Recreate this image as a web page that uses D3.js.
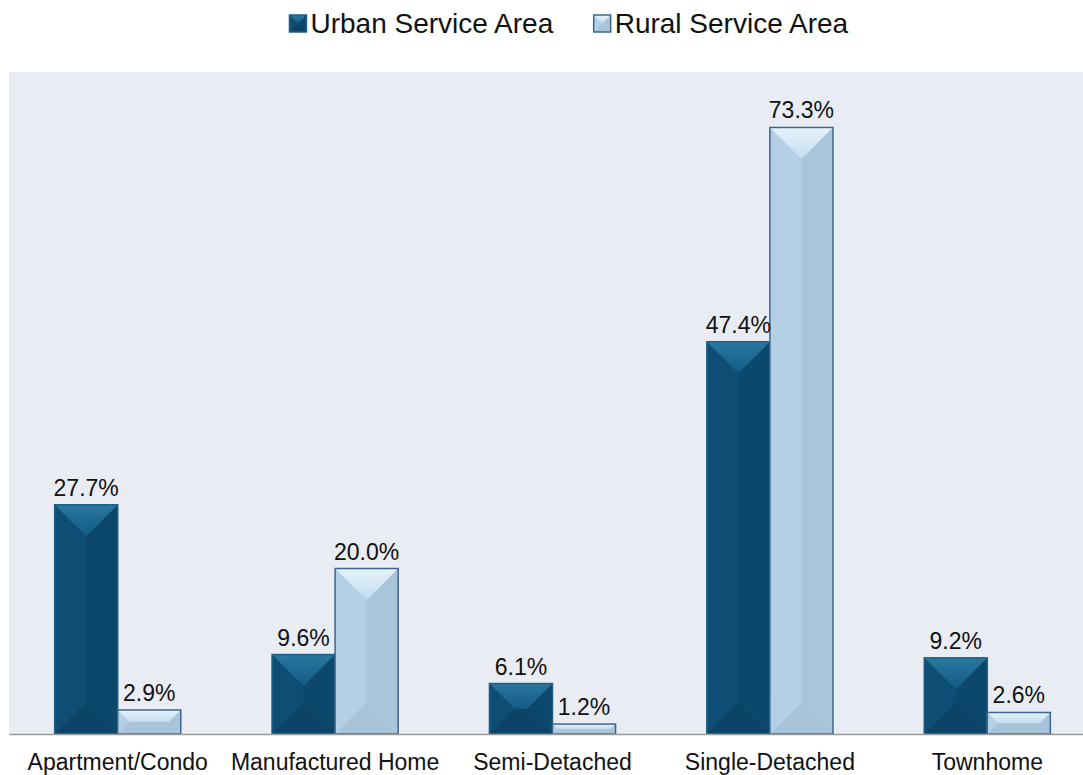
<!DOCTYPE html>
<html>
<head>
<meta charset="utf-8">
<script src="https://cdn.jsdelivr.net/npm/d3@7"></script>
<style>
  html, body { margin: 0; padding: 0; background: #ffffff; }
  svg { display: block; font-family: "Liberation Sans", Arial, sans-serif; }
</style>
</head>
<body>
<svg id="chart" width="1083" height="775"></svg>
<script>
// Housing type share by service area (percent)
const categories = ["Apartment/Condo", "Manufactured Home", "Semi-Detached", "Single-Detached", "Townhome"];
const seriesNames = ["Urban Service Area", "Rural Service Area"];
const urbanValues = [27.7, 9.6, 6.1, 47.4, 9.2];
const ruralValues = [2.9, 20.0, 1.2, 73.3, 2.6];
const yDomain = [0, 80];

const seriesValues = [urbanValues, ruralValues];

// Face colours for the bevelled bars
const palette = {
  "Urban Service Area": { key: "u", base: "#0d4b70", lightTop: "#2a77a0", light: "#135b84", side: "#0e4e74", dark: "#0c486c", bottom: "#0b4467", stroke: "#1f5f85" },
  "Rural Service Area": { key: "r", base: "#b3cfe4", lightTop: "#e6f3fb", light: "#c3dcee", side: "#b5d0e5", dark: "#a9c5da", bottom: "#a9c4d9", stroke: "#3d6590" }
};

const svg = d3.select("#chart");
const plot = { left: 9, right: 1096, top: 72, bottom: 734 };

// Vertical gradients for the top faces
const defs = svg.append("defs");
Object.values(palette).forEach(col => {
  const gr = defs.append("linearGradient")
    .attr("id", "top-" + col.key)
    .attr("x1", 0).attr("y1", 0).attr("x2", 0).attr("y2", 1);
  gr.append("stop").attr("offset", "0%").attr("stop-color", col.lightTop);
  gr.append("stop").attr("offset", "100%").attr("stop-color", col.light);
});

// Plot background
svg.append("rect")
  .attr("x", plot.left).attr("y", plot.top)
  .attr("width", plot.right - plot.left).attr("height", plot.bottom - plot.top)
  .attr("fill", "#e9ecf2");

const x0 = d3.scaleBand()
  .domain(categories)
  .range([plot.left, plot.right])
  .paddingInner(0.42)
  .paddingOuter(0.21);

const x1 = d3.scaleBand()
  .domain(seriesNames)
  .range([0, x0.bandwidth()]);

const y = d3.scaleLinear().domain(yDomain).range([plot.bottom, plot.top]);

// Bar records
const bars = [];
categories.forEach((c, i) => {
  seriesNames.forEach((s, j) => {
    bars.push({ category: c, series: s, value: seriesValues[j][i] });
  });
});

// Draws one bevelled bar: body plus top/left/right/bottom faces
function bevel(g, x, yTop, w, h, col) {
  const d = Math.min(w / 2, h / 2);
  const xr = x + w, yb = yTop + h;
  g.append("rect").attr("x", x).attr("y", yTop).attr("width", w).attr("height", h).attr("fill", col.base);
  g.append("path").attr("fill", col.side)
    .attr("d", `M${x},${yTop}L${x + d},${yTop + d}L${x + d},${yb - d}L${x},${yb}Z`);
  g.append("path").attr("fill", col.dark)
    .attr("d", `M${xr},${yTop}L${xr - d},${yTop + d}L${xr - d},${yb - d}L${xr},${yb}Z`);
  g.append("path").attr("fill", col.bottom)
    .attr("d", `M${x},${yb}L${x + d},${yb - d}L${xr - d},${yb - d}L${xr},${yb}Z`);
  g.append("path").attr("fill", `url(#top-${col.key})`)
    .attr("d", `M${x},${yTop}L${xr},${yTop}L${xr - d},${yTop + d}L${x + d},${yTop + d}Z`);
  g.append("rect").attr("x", x).attr("y", yTop).attr("width", w).attr("height", h)
    .attr("fill", "none").attr("stroke", col.stroke).attr("stroke-width", 1.5);
}

const barLayer = svg.append("g");
bars.forEach(b => {
  const bx = x0(b.category) + x1(b.series);
  const bw = x1.bandwidth();
  const top = y(b.value);
  const h = y(0) - top;
  bevel(barLayer.append("g"), bx, top, bw, h, palette[b.series]);
});

// Value labels
svg.append("g").selectAll("text")
  .data(bars)
  .join("text")
  .attr("x", d => x0(d.category) + x1(d.series) + x1.bandwidth() / 2)
  .attr("y", d => y(d.value) - 9)
  .attr("text-anchor", "middle")
  .attr("font-size", 23)
  .attr("fill", "#111")
  .text(d => d.value.toFixed(1) + "%");

// Category axis
const xAxis = svg.append("g")
  .attr("transform", `translate(0,${plot.bottom})`)
  .call(d3.axisBottom(x0).tickSize(0).tickPadding(36));
xAxis.select(".domain").attr("stroke", "#9a9a9a").attr("stroke-width", 1.5);
xAxis.selectAll("text")
  .attr("font-size", 23)
  .attr("font-family", "Liberation Sans, Arial, sans-serif")
  .attr("fill", "#111")
  .attr("dy", 0);

// Legend
const legend = svg.append("g");
const legendItems = legend.selectAll("g")
  .data(seriesNames)
  .join("g");
legendItems.each(function (s) {
  const g = d3.select(this);
  bevel(g.append("g"), 0, 15, 17, 17, palette[s]);
  g.append("text")
    .attr("x", 21).attr("y", 33)
    .attr("font-size", 28)
    .attr("fill", "#111")
    .text(s);
});
const gap = 40;
const widths = [];
legendItems.each(function () { widths.push(this.getBBox().width); });
const totalW = d3.sum(widths) + gap * (widths.length - 1);
let cursor = 569 - totalW / 2;
legendItems.each(function (s, i) {
  d3.select(this).attr("transform", `translate(${cursor},0)`);
  cursor += widths[i] + gap;
});
</script>
</body>
</html>
